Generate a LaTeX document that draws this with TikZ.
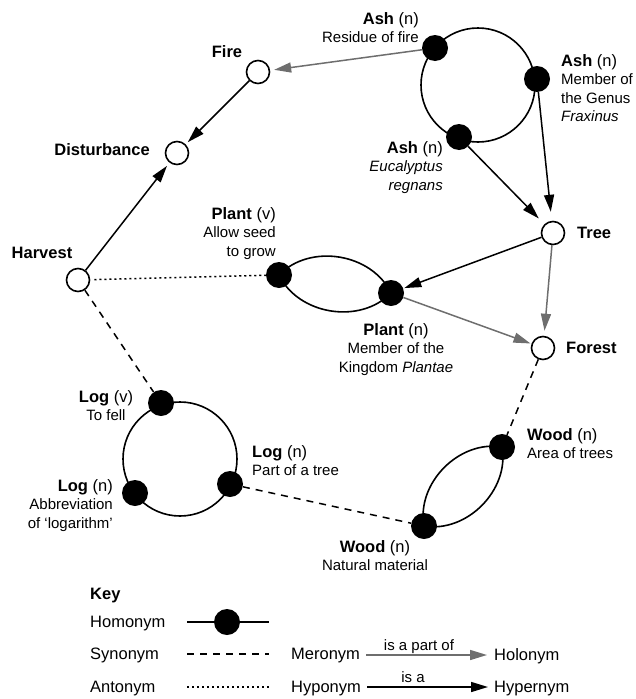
\documentclass[tikz,border=0pt]{standalone}
\usepackage{fontspec}
\setmainfont{Liberation Sans}
\usetikzlibrary{arrows.meta}
\pgfdeclarelayer{background}
\pgfsetlayers{background,main}
\definecolor{mgray}{RGB}{110,110,110}
\newcommand{\wnhead}[2]{{\fontsize{16.5}{18.5}\selectfont\textbf{#1} (#2)}}
\begin{document}
\begin{tikzpicture}[x=1pt,y=-1pt,
  open/.style={circle,draw,fill=white,line width=1.6pt,minimum size=23pt,inner sep=0pt},
  dot/.style={circle,fill=black,minimum size=26pt,inner sep=0pt},
  wname/.style={font=\fontsize{16.5}{18.5}\selectfont\bfseries,inner sep=0pt},
  lbl/.style={font=\fontsize{15}{18.5}\selectfont,inner sep=0pt},
  keytxt/.style={font=\fontsize{16.5}{19}\selectfont,inner sep=0pt},
  hyp/.style={line width=1.5pt,-{Triangle[length=17pt,width=10pt]}},
  mer/.style={hyp,color=mgray},
  syn/.style={line width=1.5pt,dash pattern=on 7pt off 6pt},
  ant/.style={line width=1.5pt,dash pattern=on 2.2pt off 2.8pt},
  ring/.style={line width=1.6pt}
]
\useasboundingbox (0,0) rectangle (636,699);

% open concept nodes
\node[open] (fire) at (258,72) {};
\node[open] (dist) at (177,153) {};
\node[open] (harvest) at (78,280) {};
\node[open] (tree) at (553,233) {};
\node[open] (forest) at (543,348) {};

\node[wname] (firet) at (227,52) {Fire};
\node[wname,anchor=east] (distt) at (150,150) {Disturbance};
\node[wname] (harvestt) at (42,253) {Harvest};
\node[wname,anchor=west] (treet) at (577,233) {Tree};
\node[wname,anchor=west] (forestt) at (566,348) {Forest};

% homonym dots
\node[dot] (ashres) at (435,48) {};
\node[dot] (ashmem) at (537,79) {};
\node[dot] (asheuc) at (459,137) {};
\node[dot] (plantv) at (279,275) {};
\node[dot] (plantn) at (391,293) {};
\node[dot] (logv) at (161,403) {};
\node[dot] (logab) at (135,493) {};
\node[dot] (logpt) at (230,484) {};
\node[dot] (woodnat) at (424,526) {};
\node[dot] (woodarea) at (502,447) {};

% labels
\node[lbl,anchor=north east,align=right] (lashres) at (419,12) {\wnhead{Ash}{n}\\Residue of fire};
\node[lbl,anchor=north west,align=left] (lashmem) at (561,54) {\wnhead{Ash}{n}\\Member of\\the Genus\\\textit{Fraxinus}};
\node[lbl,anchor=north east,align=right] (lasheuc) at (443,141) {\wnhead{Ash}{n}\\\textit{Eucalyptus}\\\textit{regnans}};
\node[lbl,anchor=north east,align=right] (lplantv) at (276,207) {\wnhead{Plant}{v}\\Allow seed\\to grow};
\node[lbl,anchor=north,align=center] (lplantn) at (396,323) {\wnhead{Plant}{n}\\Member of the\\Kingdom \textit{Plantae}};
\node[lbl,anchor=north,align=center] (llogv) at (106,390) {\wnhead{Log}{v}\\To fell};
\node[lbl,anchor=north east,align=right] (llogab) at (113,479) {\wnhead{Log}{n}\\Abbreviation\\of ‘logarithm’};
\node[lbl,anchor=north west,align=left] (llogpt) at (252,445) {\wnhead{Log}{n}\\Part of a tree};
\node[lbl,anchor=north,align=center] (lwoodnat) at (375,540) {\wnhead{Wood}{n}\\Natural material};
\node[lbl,anchor=north west,align=left] (lwoodarea) at (527,428) {\wnhead{Wood}{n}\\Area of trees};

% key
\node[keytxt,font=\fontsize{16.5}{19}\selectfont\bfseries,anchor=base west] (key) at (90,599) {Key};
\node[keytxt,anchor=base west] (khom) at (90,627) {Homonym};
\node[keytxt,anchor=base west] (ksyn) at (90,659) {Synonym};
\node[keytxt,anchor=base west] (kant) at (90,692) {Antonym};
\coordinate (hk1) at (187,622);
\coordinate (hk2) at (269,622);
\node[dot] (hkdot) at (227,622) {};
\coordinate (sk1) at (187,654);
\coordinate (sk2) at (269,654);
\coordinate (ak1) at (187,687);
\coordinate (ak2) at (269,687);
\node[keytxt,anchor=base west] (kmer) at (291,659) {Meronym};
\node[keytxt,anchor=base west] (khol) at (494,660) {Holonym};
\node[keytxt,anchor=base west] (khypo) at (291,692) {Hyponym};
\node[keytxt,anchor=base west] (khyper) at (494,692) {Hypernym};
\coordinate (mk1) at (366,655);
\coordinate (mk2) at (487,655);
\coordinate (yk1) at (367,687);
\coordinate (yk2) at (488,687);
\node[lbl,anchor=base] (kpart) at (419,650) {is a part of};
\node[lbl,anchor=base] (kisa) at (413,682) {is a};

\begin{pgfonlayer}{background}
\draw[ring] (478,85) circle (57);
\draw[ring] (180,459) circle (57);
\draw[ring] (plantv.center) to[bend left=55] (plantn.center);
\draw[ring] (plantv.center) to[bend right=55] (plantn.center);
\draw[ring] (woodnat.center) to[bend left=55] (woodarea.center);
\draw[ring] (woodnat.center) to[bend right=55] (woodarea.center);
\draw[ring] (hk1) -- (hk2);
\end{pgfonlayer}

% relations
\draw[mer,shorten >=4pt] (ashres) -- (fire);
\draw[hyp,shorten >=3pt] (fire) -- (dist);
\draw[hyp,shorten >=4pt] (harvest) -- (dist);
\draw[hyp,shorten >=9pt] (ashmem) -- (tree);
\draw[hyp,shorten >=8pt] (asheuc) -- (tree);
\draw[hyp,shorten >=1pt] (tree) -- (plantn);
\draw[mer,shorten >=5pt] (tree) -- (forest);
\draw[mer,shorten >=1pt] (plantn) -- (forest);
\draw[ant,shorten <=4pt] (harvest) -- (plantv);
\draw[syn] (harvest) -- (logv);
\draw[syn] (forest) -- (woodarea);
\draw[syn] (logpt) -- (woodnat);

% key lines
\draw[syn] (sk1) -- (sk2);
\draw[ant] (ak1) -- (ak2);
\draw[mer] (mk1) -- (mk2);
\draw[hyp] (yk1) -- (yk2);
\end{tikzpicture}
\end{document}
